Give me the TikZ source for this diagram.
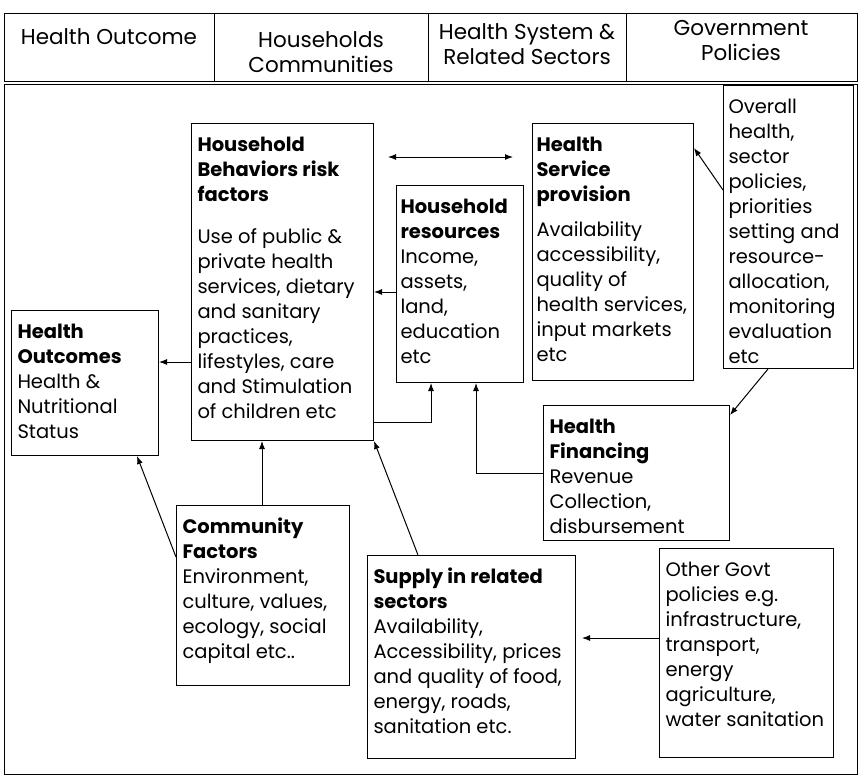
\documentclass[tikz,border=0pt]{standalone}
\usepackage{fontspec}
\setmainfont{Poppins}
\usetikzlibrary{arrows.meta,calc}
\newcommand{\bt}[3]{\parbox[t][#2pt][t]{#1pt}{\fontsize{19.5}{25}\selectfont\begin{tabular}[t]{@{}l@{}}#3\end{tabular}}}
\newcommand{\hl}[1]{\textbf{#1}}
\tikzset{
  bx/.style={draw, line width=1pt, anchor=north west, inner xsep=6pt, inner ysep=10pt},
  hd/.style={align=center, font=\fontsize{21.5}{25}\selectfont},
  arr/.style={line width=1pt, -{Latex[length=8pt,width=6pt]}},
  darr/.style={line width=1pt, {Latex[length=8pt,width=6pt]}-{Latex[length=8pt,width=6pt]}},
  frame/.style={line width=1pt}
}
\begin{document}
\begin{tikzpicture}[x=1pt,y=-1pt]
\useasboundingbox (0,0) rectangle (860,777);
% header
\draw[frame] (4,13) rectangle (857,81);
\draw[frame] (214,13) -- (214,81);
\draw[frame] (428,13) -- (428,81);
\draw[frame] (626,13) -- (626,81);
\node[hd] (h1) at (109,37) {Health Outcome};
\node[hd] (h2) at (321,52) {Households\\Communities};
\node[hd] (h3) at (527,44) {Health System \&\\Related Sectors};
\node[hd] (h4) at (741,41) {Government\\Policies};
% main frame
\draw[frame] (4,84) rectangle (857,774);
% boxes
\node[bx] (hb) at (191,123) {\bt{170}{297}{\hl{Household}\\\hl{Behaviors risk}\\\hl{factors}\\[17pt]Use of public \&\\private health\\services, dietary\\and sanitary\\practices,\\lifestyles, care\\and Stimulation\\of children etc}};
\node[bx, inner xsep=4pt] (hr) at (396,185) {\bt{119}{177}{\hl{Household}\\\hl{resources}\\Income,\\assets,\\land,\\education\\etc}};
\node[bx, inner xsep=4pt] (hs) at (532,123) {\bt{153}{237}{\hl{Health}\\\hl{Service}\\\hl{provision}\\[10pt]Availability\\accessibility,\\quality of\\health services,\\input markets\\etc}};
\node[bx, inner xsep=5pt] (oh) at (723,85) {\bt{120}{263}{Overall\\health,\\sector\\policies,\\priorities\\setting and\\resource-\\allocation,\\monitoring\\evaluation\\etc}};
\node[bx] (ho) at (11,310) {\bt{135}{125}{\hl{Health}\\\hl{Outcomes}\\Health \&\\Nutritional\\Status}};
\node[bx] (hf) at (543,405) {\bt{174}{115}{\hl{Health}\\\hl{Financing}\\Revenue\\Collection,\\disbursement}};
\node[bx] (cf) at (176,505) {\bt{161}{160}{\hl{Community}\\\hl{Factors}\\Environment,\\culture, values,\\ecology, social\\capital etc..}};
\node[bx] (sr) at (367,555) {\bt{196}{183}{\hl{Supply in related}\\\hl{sectors}\\Availability,\\Accessibility, prices\\and quality of food,\\energy, roads,\\sanitation etc.}};
\node[bx] (og) at (659,548) {\bt{162}{189}{Other Govt\\policies e.g.\\infrastructure,\\transport,\\energy\\agriculture,\\water sanitation}};
% connectors
\coordinate (da1) at (388,157);
\coordinate (da2) at (513,157);
\draw[darr] (da1) -- (da2);
\draw[arr] (hb.west |- 0,362) -- (ho.east |- 0,362);
\draw[arr] (cf.north -| 262,0) -- (hb.south -| 262,0);
\draw[arr] (cf.west |- 0,557) -- (ho.south -| 137,0);
\draw[arr] (sr.north -| 418,0) -- (hb.south east);
\draw[arr] (hr.west |- 0,292) -- (hb.east |- 0,292);
\draw[arr] (hb.east |- 0,422) -| (hr.south -| 431,0);
\draw[arr] (hf.west |- 0,473) -| (hr.south -| 476,0);
\draw[arr] (oh.west |- 0,190) -- (hs.east |- 0,148);
\draw[arr] (oh.south -| 768,0) -- (hf.east |- 0,415);
\coordinate (sgap) at (582,638);
\draw[arr] (og.west |- 0,638) -- (sgap);
\end{tikzpicture}
\end{document}
